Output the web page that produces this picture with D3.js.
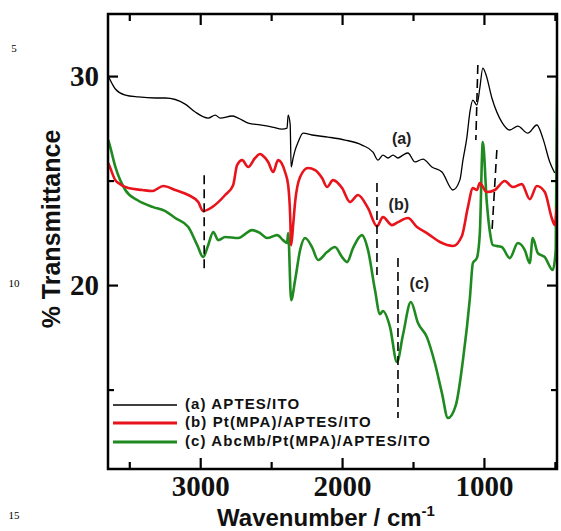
<!DOCTYPE html>
<html>
<head>
<meta charset="utf-8">
<script src="https://cdn.jsdelivr.net/npm/d3@7"></script>
<style>
  html, body { margin: 0; padding: 0; background: #fff; }
  svg { display: block; }
</style>
</head>
<body>
<div id="chart"></div>
<script>
// FTIR spectra: wavenumber (cm-1) and % transmittance for each film
const seriesNames = ["(a) APTES/ITO", "(b) Pt(MPA)/APTES/ITO", "(c) AbcMb/Pt(MPA)/APTES/ITO"];
const seriesColors = ["#000000", "#e8131b", "#1f8a1f"];

const wnA = [3648,3620,3598,3528,3437,3317,3246,3106,3035,2944,2894,2859,2775,2732,2662,2578,2493,2423,2388,2380,2366,2359,2345,2331,2310,2275,2212,2099,1979,1860,1782,1747,1712,1676,1641,1606,1571,1536,1486,1430,1367,1296,1219,1170,1148,1120,1099,1078,1050,1029,1008,987,944,874,818,761,691,627,585,536,501];
const tA  = [30.00,29.62,29.38,29.09,29.00,28.95,28.95,28.66,28.28,27.99,28.13,27.99,28.09,27.99,27.75,27.66,27.56,27.46,27.51,28.13,27.70,25.65,26.08,26.46,26.84,27.27,27.18,27.08,26.94,26.70,26.36,25.98,26.22,26.08,26.22,26.08,26.22,26.32,25.89,26.03,25.65,25.41,24.55,25.02,25.98,27.08,28.28,28.85,28.61,29.43,30.38,30.10,28.95,27.80,27.42,27.61,27.27,27.66,27.03,25.89,25.36];

const wnB = [3648,3634,3598,3577,3507,3408,3338,3260,3176,3084,3014,2979,2916,2824,2768,2740,2704,2662,2613,2578,2563,2521,2486,2451,2402,2380,2366,2359,2345,2331,2296,2240,2190,2141,2106,2064,2000,1944,1888,1817,1754,1712,1648,1606,1536,1472,1402,1310,1219,1156,1113,1078,1050,1029,980,923,853,796,733,677,627,571,522,501,487];
const tB  = [25.84,25.60,25.02,24.88,24.64,24.55,24.50,24.74,24.55,24.31,23.97,23.54,23.73,24.31,24.78,25.74,25.98,25.65,26.08,26.27,26.22,25.89,25.41,25.98,25.41,24.78,23.35,21.91,22.87,23.97,25.17,25.60,25.50,25.12,24.69,25.02,24.64,23.97,24.31,23.68,22.82,23.25,22.87,23.01,23.21,22.78,22.49,22.06,21.87,22.34,23.73,24.64,24.55,24.88,24.45,24.55,24.98,24.69,24.83,24.11,24.74,24.45,23.21,22.87,23.73];

const wnC = [3648,3634,3598,3528,3444,3331,3246,3176,3084,3021,2979,2944,2908,2873,2824,2732,2634,2578,2528,2458,2416,2388,2380,2359,2331,2296,2261,2212,2169,2106,2050,2000,1965,1923,1860,1817,1768,1733,1712,1662,1613,1571,1515,1465,1402,1346,1296,1254,1198,1148,1099,1078,1050,1029,1008,980,958,937,874,818,761,712,677,656,620,571,515,494,480];
const tC  = [26.94,26.60,25.65,24.55,24.07,23.73,23.54,23.21,22.78,21.91,21.34,21.91,22.54,22.15,22.30,22.25,22.63,22.49,22.25,22.39,22.15,22.01,22.49,19.28,20.24,21.67,22.25,21.82,21.20,21.58,21.82,21.34,21.10,21.77,22.39,21.67,19.76,18.61,18.76,17.99,16.32,17.61,19.19,18.18,17.51,16.27,14.83,13.64,14.26,16.41,19.38,21.05,21.29,22.49,26.84,23.97,22.54,21.91,21.82,21.29,22.01,21.67,21.05,22.25,21.53,21.34,20.72,21.67,32.68];

// Band markers: [wavenumber at top, wavenumber at bottom, %T top, %T bottom]
const bandMarkers = [
  [2972, 2972, 25.26, 20.81],
  [1754, 1754, 24.88, 20.48],
  [1606, 1606, 21.29, 13.64],
  [1043, 1057, 30.53, 26.94],
  [909, 944, 26.46, 22.49]
];

// Curve tags placed beside each trace: [text, wavenumber, %T]
const curveTags = [["(a)", 1580, 26.95], ["(b)", 1600, 23.8], ["(c)", 1455, 20.0]];

const xMajorTicks = [3000, 2000, 1000];
const xMinorTicks = [3500, 2500, 1500, 500];
const yMajorTicks = [30, 20];
const yMinorTicks = [25, 15];
const lineNumbers = [["5", 49], ["10", 284], ["15", 516]];

const W = 561, H = 531;
const plot = { left: 108, right: 557, top: 14, bottom: 469 };

const svg = d3.select("#chart").append("svg")
  .attr("width", W).attr("height", H);

const x = d3.scaleLinear().domain([3650, 485]).range([plot.left, plot.right]);
const y = d3.scaleLinear().domain([11.2, 32.97]).range([plot.bottom, plot.top]);

svg.append("defs").append("clipPath").attr("id", "plotClip")
  .append("rect")
  .attr("x", plot.left).attr("y", plot.top)
  .attr("width", plot.right - plot.left).attr("height", plot.bottom - plot.top);

// margin line numbers
svg.append("g").selectAll("text").data(lineNumbers).join("text")
  .attr("x", 14).attr("y", d => d[1])
  .attr("text-anchor", "middle").attr("dominant-baseline", "middle")
  .attr("font-family", "Liberation Serif, Times New Roman, serif")
  .attr("font-size", 11).text(d => d[0]);

// spectra
const series = [
  d3.zip(wnA, tA),
  d3.zip(wnB, tB),
  d3.zip(wnC, tC)
];
const widths = [1.3, 2.6, 2.6];
const line = d3.line().x(d => x(d[0])).y(d => y(d[1])).curve(d3.curveMonotoneX);

const curves = svg.append("g").attr("clip-path", "url(#plotClip)");
[2, 1, 0].forEach(i => {
  curves.append("path")
    .datum(series[i])
    .attr("d", line)
    .attr("fill", "none")
    .attr("stroke", seriesColors[i])
    .attr("stroke-width", widths[i])
    .attr("stroke-linejoin", "round");
});

// dashed band markers
svg.append("g").selectAll("line").data(bandMarkers).join("line")
  .attr("x1", d => x(d[0])).attr("x2", d => x(d[1]))
  .attr("y1", d => y(d[2])).attr("y2", d => y(d[3]))
  .attr("stroke", "#000").attr("stroke-width", 1.6)
  .attr("stroke-dasharray", "9,5");

// curve tags
svg.append("g").selectAll("text").data(curveTags).join("text")
  .attr("x", d => x(d[1])).attr("y", d => y(d[2]))
  .attr("text-anchor", "middle").attr("dominant-baseline", "middle")
  .attr("font-family", "Liberation Sans, Arial, sans-serif")
  .attr("font-weight", "bold").attr("font-size", 16)
  .attr("fill", "#222").text(d => d[0]);

// axes with inward ticks
const fontSerif = "Liberation Serif, Times New Roman, serif";
function styleAxis(g) {
  g.select(".domain").remove();
  g.selectAll(".tick line").attr("stroke", "#000").attr("stroke-width", 2.2);
  g.selectAll(".tick text")
    .attr("font-family", fontSerif).attr("font-weight", "bold")
    .attr("font-size", 29).attr("fill", "#111");
}

svg.append("g").attr("transform", `translate(0,${plot.bottom})`)
  .call(d3.axisBottom(x).tickValues(xMajorTicks).tickSize(-11).tickPadding(6).tickFormat(d3.format("d")))
  .call(styleAxis);
svg.append("g").attr("transform", `translate(0,${plot.bottom})`)
  .call(d3.axisBottom(x).tickValues(xMinorTicks).tickSize(-7).tickFormat(""))
  .call(styleAxis);
svg.append("g").attr("transform", `translate(0,${plot.top})`)
  .call(d3.axisTop(x).tickValues(xMajorTicks).tickSize(-11).tickFormat(""))
  .call(styleAxis);
svg.append("g").attr("transform", `translate(0,${plot.top})`)
  .call(d3.axisTop(x).tickValues(xMinorTicks).tickSize(-7).tickFormat(""))
  .call(styleAxis);

svg.append("g").attr("transform", `translate(${plot.left},0)`)
  .call(d3.axisLeft(y).tickValues(yMajorTicks).tickSize(-10).tickPadding(9).tickFormat(d3.format("d")))
  .call(styleAxis);
svg.append("g").attr("transform", `translate(${plot.left},0)`)
  .call(d3.axisLeft(y).tickValues(yMinorTicks).tickSize(-6).tickFormat(""))
  .call(styleAxis);
svg.append("g").attr("transform", `translate(${plot.right},0)`)
  .call(d3.axisRight(y).tickValues(yMajorTicks).tickSize(-10).tickFormat(""))
  .call(styleAxis);
svg.append("g").attr("transform", `translate(${plot.right},0)`)
  .call(d3.axisRight(y).tickValues(yMinorTicks).tickSize(-6).tickFormat(""))
  .call(styleAxis);

// frame
svg.append("rect")
  .attr("x", plot.left).attr("y", plot.top)
  .attr("width", plot.right - plot.left).attr("height", plot.bottom - plot.top)
  .attr("fill", "none").attr("stroke", "#000").attr("stroke-width", 2.5);

// legend
const legend = svg.append("g");
const legendY = [405, 423, 442];
seriesNames.forEach((name, i) => {
  legend.append("line")
    .attr("x1", 113).attr("x2", 177)
    .attr("y1", legendY[i]).attr("y2", legendY[i])
    .attr("stroke", seriesColors[i]).attr("stroke-width", i === 0 ? 1.5 : 3);
  legend.append("text")
    .attr("x", 185).attr("y", legendY[i])
    .attr("dominant-baseline", "middle")
    .attr("font-family", "Liberation Sans, Arial, sans-serif")
    .attr("font-weight", "bold").attr("font-size", 15)
    .attr("letter-spacing", 1.1)
    .attr("fill", "#111").text(name);
});

// axis titles
svg.append("text")
  .attr("transform", "translate(53,229) rotate(-90)")
  .attr("text-anchor", "middle").attr("dominant-baseline", "middle")
  .attr("font-family", "Liberation Sans, Arial, sans-serif")
  .attr("font-weight", "bold").attr("font-size", 25)
  .attr("fill", "#111").text("% Transmittance");

const xt = svg.append("text")
  .attr("x", 326).attr("y", 526)
  .attr("text-anchor", "middle")
  .attr("font-family", "Liberation Sans, Arial, sans-serif")
  .attr("font-weight", "bold").attr("font-size", 24)
  .attr("fill", "#111");
xt.append("tspan").text("Wavenumber / cm");
xt.append("tspan").attr("dy", -10).attr("font-size", 15).text("-1");
</script>
</body>
</html>
